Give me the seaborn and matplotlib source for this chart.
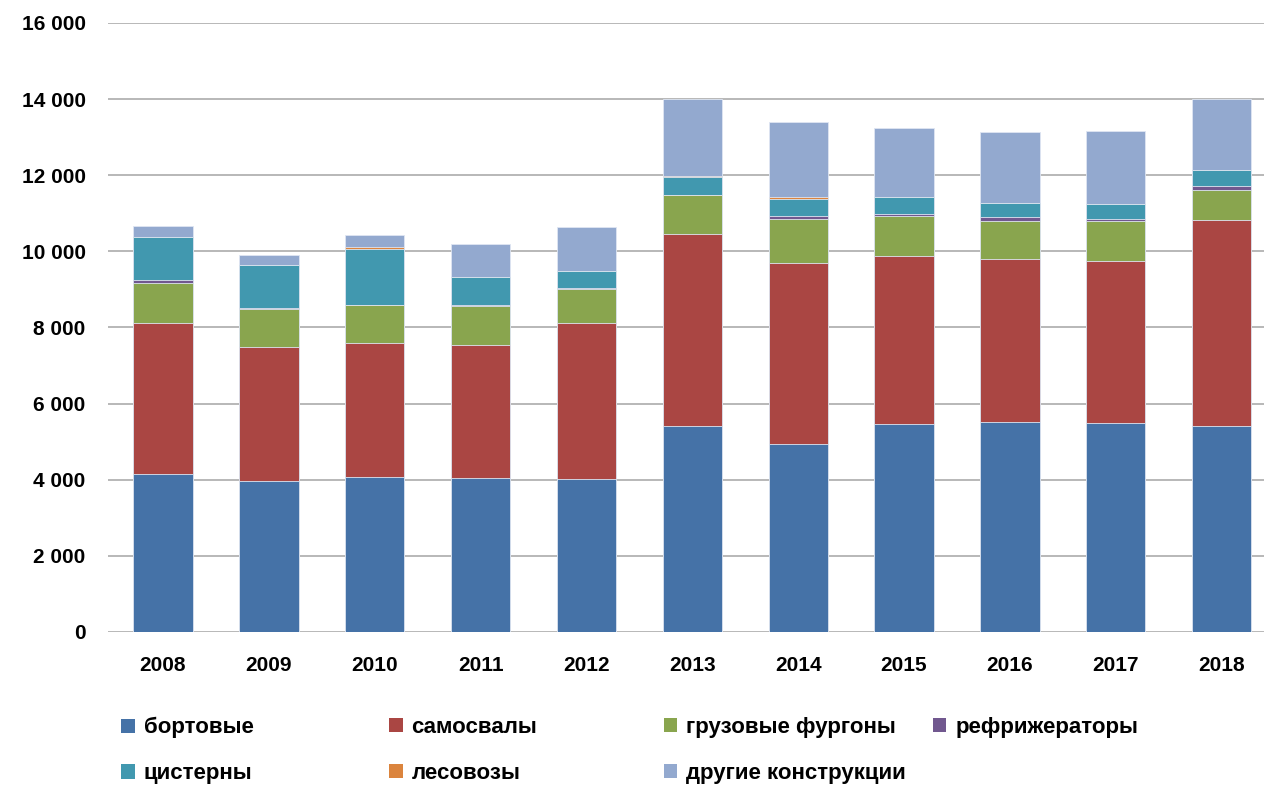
import pandas as pd
import numpy as np
import matplotlib
matplotlib.use("Agg")
import matplotlib.pyplot as plt
import seaborn as sns
from matplotlib.patches import Patch

# Data
years = ['2008', '2009', '2010', '2011', '2012', '2013', '2014', '2015', '2016', '2017', '2018']
bortovye = [4150, 3970, 4070, 4050, 4020, 5410, 4940, 5465, 5520, 5490, 5410]
samosvaly = [3960, 3530, 3530, 3480, 4090, 5050, 4755, 4415, 4280, 4260, 5420]
furgony = [1065, 990, 990, 1025, 900, 1015, 1165, 1050, 1000, 1050, 790]
refrizheratory = [70, 20, 10, 35, 35, 10, 70, 60, 105, 60, 105]
cisterny = [1135, 1130, 1460, 725, 440, 470, 450, 445, 370, 380, 410]
lesovozy = [10, 0, 45, 0, 0, 35, 35, 0, 0, 0, 0]
drugie = [280, 270, 315, 890, 1155, 2020, 1980, 1815, 1855, 1925, 1865]

series = ['бортовые', 'самосвалы', 'грузовые фургоны', 'рефрижераторы',
          'цистерны', 'лесовозы', 'другие конструкции']
values = [bortovye, samosvaly, furgony, refrizheratory, cisterny, lesovozy, drugie]
colors = ['#4572A7', '#AA4643', '#89A54E', '#71588F', '#4198AF', '#DB843D', '#93A9CF']

df = pd.DataFrame({'year': years})
for name, vals in zip(series, values):
    df[name] = vals
# cumulative totals for stacking
cum = df[series].cumsum(axis=1)

sns.set_style("white")
plt.rcParams['font.family'] = ['Liberation Sans', 'DejaVu Sans']
plt.rcParams['text.color'] = 'black'

fig = plt.figure(figsize=(12.64, 7.87), dpi=100)
ax = fig.add_axes([0.0854, 0.197, 0.9146, 0.7738])

# draw from the top of the stack down so lower segments overlay
for name, col in reversed(list(zip(series, colors))):
    sns.barplot(x=df['year'], y=cum[name], color=col, width=0.56,
                edgecolor='#dfe6f2', linewidth=0.6, saturation=1, ax=ax)

ax.set_ylim(0, 16000)
ax.set_xlim(-0.52, 10.4)
ax.set_yticks(np.arange(0, 16001, 2000))
ax.set_yticklabels([f"{v:,}".replace(",", " ") for v in range(0, 16001, 2000)])
ax.yaxis.grid(True, color='#ababab', linewidth=1.2)
ax.set_axisbelow(True)
for s in ax.spines.values():
    s.set_visible(False)
ax.tick_params(axis='both', length=0, labelsize=15, labelcolor='black')
ax.tick_params(axis='y', pad=16)
ax.tick_params(axis='x', pad=17)
for lbl in ax.get_xticklabels() + ax.get_yticklabels():
    lbl.set_fontweight('bold')
ax.set_xlabel('')
ax.set_ylabel('')

# legend: four columns placed like the original
handles = [Patch(facecolor=c, edgecolor='none') for c in colors]
columns = [[0, 4], [1, 5], [2, 6], [3]]
col_x = [0.089, 0.301, 0.518, 0.731]
for idx, x in zip(columns, col_x):
    fig.legend([handles[i] for i in idx], [series[i] for i in idx],
               loc='upper left', bbox_to_anchor=(x, 0.100), frameon=False,
               prop={'size': 16, 'weight': 'bold'}, handlelength=0.6,
               handleheight=0.6, handletextpad=0.4, labelspacing=1.12,
               borderaxespad=0)

fig.savefig('out.png', dpi=100)
